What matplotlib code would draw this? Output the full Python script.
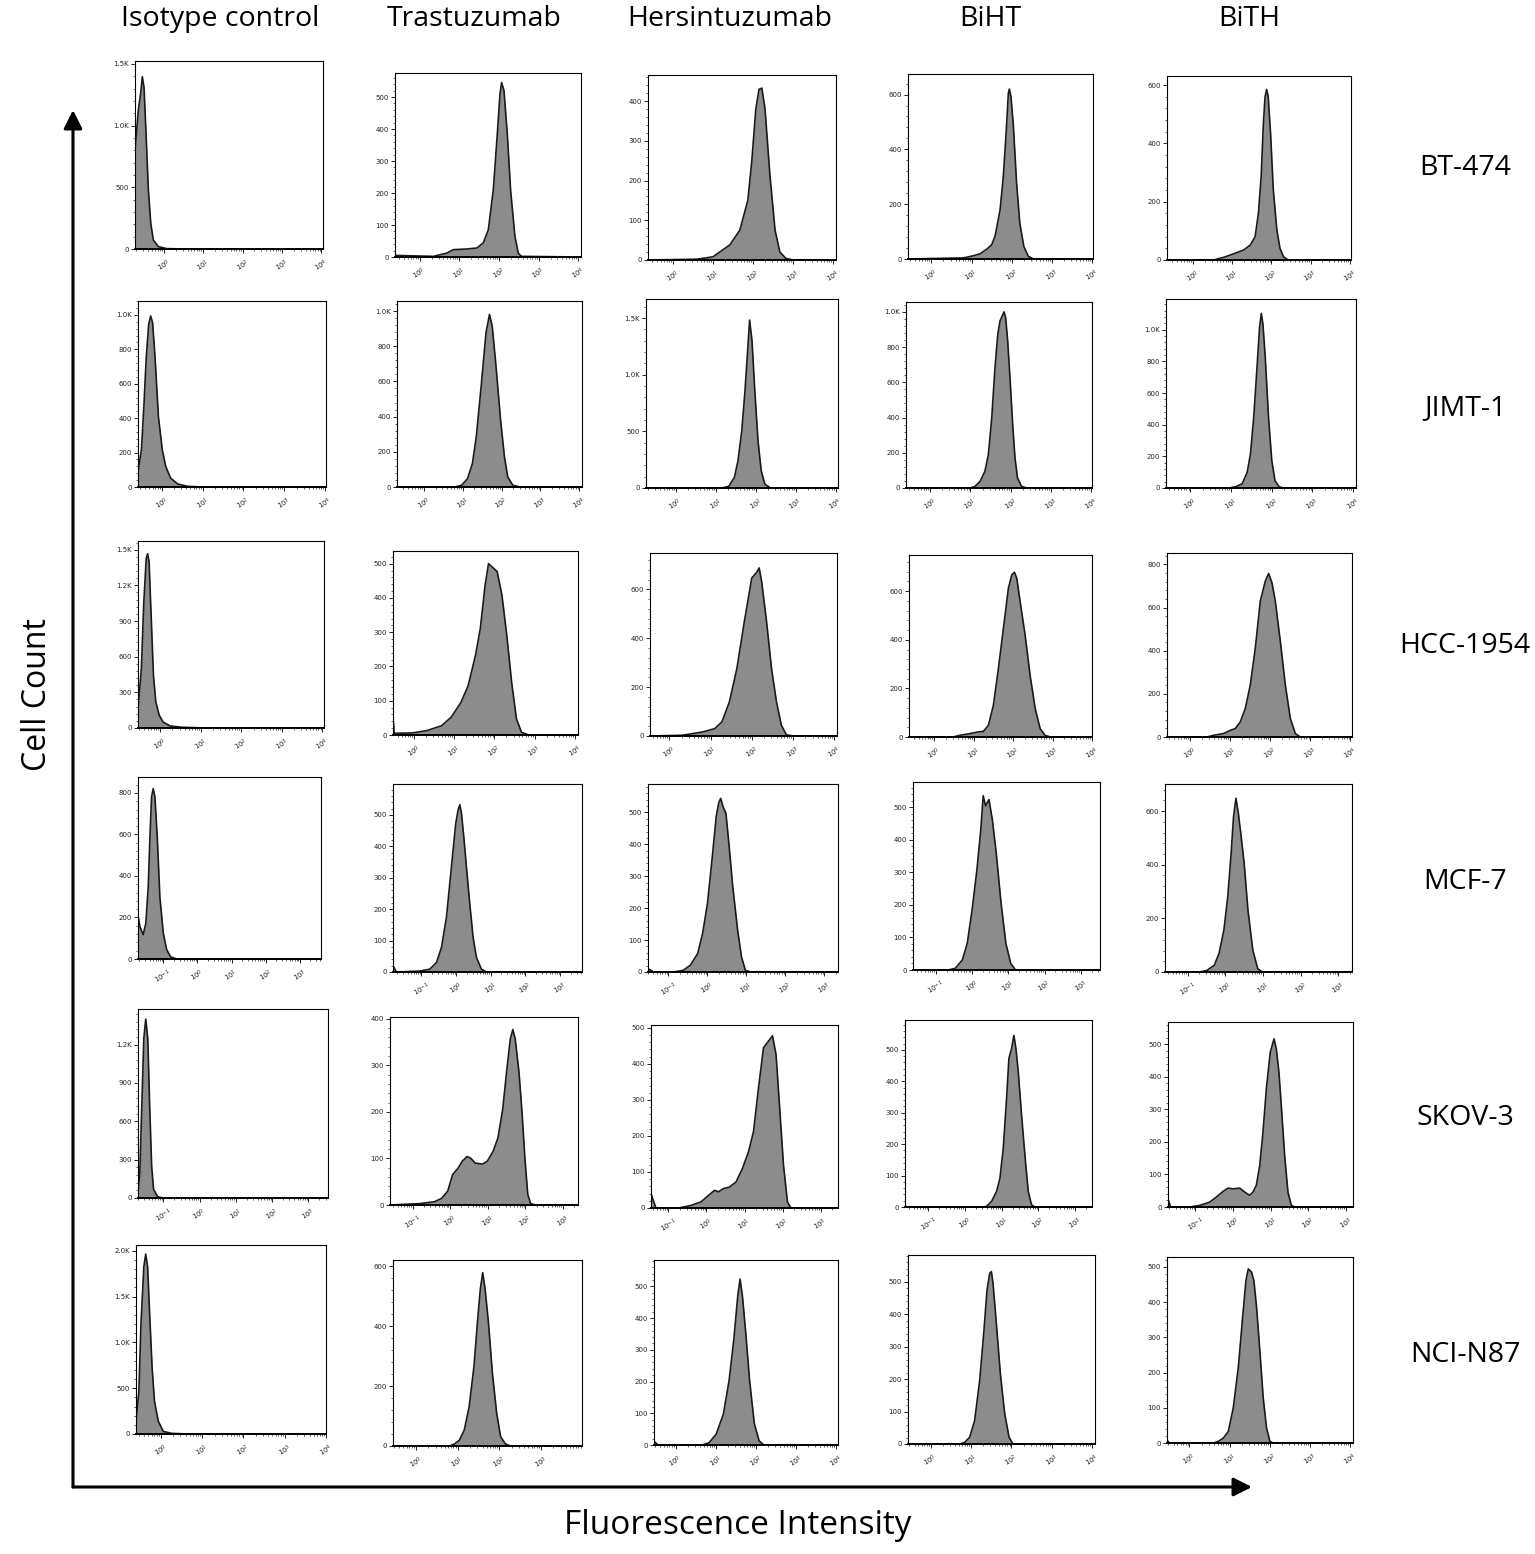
import numpy as np
import matplotlib
matplotlib.use('Agg')
import matplotlib.pyplot as plt
from matplotlib.patches import FancyArrowPatch
from matplotlib.ticker import FixedLocator, LogLocator, AutoMinorLocator, NullFormatter, FuncFormatter

W, H = 1535, 1554

antibodies = ['Isotype control', 'Trastuzumab', 'Hersintuzumab', 'BiHT', 'BiTH']
cell_lines = ['BT-474', 'JIMT-1', 'HCC-1954', 'MCF-7', 'SKOV-3', 'NCI-N87']

# histogram outlines: (log10 fluorescence, cell count)
bt474_iso = ([-0.73, -0.645, -0.586, -0.544, -0.501, -0.45, -0.39, -0.33, -0.264, -0.137, 0.075, 0.6, 4.04],
             [803, 1127, 1262, 1397, 1310, 935, 476, 208, 73, 19, 3, 0, 0])
bt474_tras = ([-0.62, 0.346, 0.683, 0.85, 1.187, 1.44, 1.607, 1.733, 1.859, 1.96, 2.027, 2.069, 2.128, 2.212, 2.296, 2.405, 2.489, 2.57, 4.07],
              [5, 2, 12, 23, 25, 28, 44, 85, 210, 385, 510, 545, 520, 384, 207, 64, 12, 2, 0])
bt474_hers = ([-0.62, 0.6, 1.0, 1.42, 1.67, 1.87, 1.97, 2.07, 2.15, 2.22, 2.3, 2.42, 2.55, 2.67, 2.82, 3.0, 4.07],
              [0, 2, 8, 38, 75, 150, 250, 380, 430, 433, 380, 215, 75, 20, 4, 0, 0])
bt474_biht = ([-0.58, 0.8, 1.05, 1.21, 1.38, 1.5, 1.585, 1.71, 1.79, 1.86, 1.915, 1.94, 1.98, 2.04, 2.12, 2.2, 2.3, 2.41, 2.54, 4.02],
              [0, 4, 12, 19, 36, 52, 83, 180, 301, 460, 605, 620, 593, 486, 277, 131, 46, 10, 0, 0])
bt474_bith = ([-0.66, 0.526, 0.78, 1.035, 1.29, 1.46, 1.586, 1.67, 1.74, 1.797, 1.84, 1.88, 1.92, 1.98, 2.05, 2.14, 2.22, 2.31, 2.43, 4.03],
              [0, 0, 9, 21, 34, 51, 80, 160, 286, 469, 560, 585, 560, 434, 240, 103, 40, 11, 0, 0])

jimt1_iso = ([-0.58, -0.497, -0.437, -0.378, -0.318, -0.27, -0.223, -0.163, -0.08, 0.015, 0.099, 0.218, 0.396, 0.634, 0.99, 4.02],
             [90, 215, 465, 754, 946, 994, 955, 754, 408, 215, 119, 52, 17, 4, 0, 0])
jimt1_tras = ([-0.69, 0.79, 0.975, 1.125, 1.25, 1.35, 1.475, 1.6, 1.69, 1.76, 1.85, 1.975, 2.075, 2.16, 2.29, 2.475, 4.07],
              [0, 0, 10, 48, 133, 286, 571, 876, 981, 914, 705, 381, 171, 57, 10, 0, 0])
jimt1_hers = ([-0.74, 1.16, 1.33, 1.47, 1.56, 1.655, 1.735, 1.79, 1.85, 1.91, 1.98, 2.06, 2.14, 2.23, 2.37, 4.06],
              [0, 0, 15, 94, 241, 506, 859, 1153, 1482, 1300, 859, 418, 153, 35, 0, 0])
jimt1_biht = ([-0.6, 0.99, 1.115, 1.24, 1.36, 1.446, 1.53, 1.61, 1.68, 1.735, 1.79, 1.835, 1.876, 1.926, 1.983, 2.05, 2.107, 2.17, 2.27, 2.4, 4.02],
              [0, 0, 9, 38, 95, 190, 398, 682, 872, 948, 977, 1000, 966, 834, 626, 360, 171, 57, 9, 0, 0])
jimt1_bith = ([-0.6, 0.95, 1.113, 1.274, 1.395, 1.476, 1.556, 1.637, 1.70, 1.742, 1.782, 1.84, 1.92, 2.0, 2.08, 2.18, 2.28, 4.07],
              [0, 0, 8, 27, 99, 215, 446, 762, 1015, 1103, 1036, 825, 446, 173, 46, 8, 0, 0])

hcc1954_iso = ([-0.55, -0.467, -0.407, -0.348, -0.312, -0.276, -0.229, -0.169, -0.11, -0.026, 0.07, 0.248, 0.545, 1.14, 4.04],
               [160, 499, 1055, 1424, 1466, 1396, 976, 443, 219, 107, 50, 17, 6, 0, 0])
hcc1954_tras = ([-0.52, -0.49, -0.036, 0.325, 0.687, 0.928, 1.169, 1.349, 1.53, 1.65, 1.77, 1.855, 1.95, 2.07, 2.19, 2.31, 2.43, 2.55, 2.675, 2.855, 4.08],
                [55, 5, 6, 13, 27, 52, 95, 144, 232, 310, 437, 500, 490, 477, 407, 290, 154, 47, 8, 0, 0])
hcc1954_hers = ([-0.47, 0.31, 0.795, 1.1, 1.277, 1.458, 1.64, 1.82, 2.0, 2.12, 2.18, 2.24, 2.36, 2.48, 2.6, 2.72, 2.84, 3.02, 4.07],
                [0, 3, 16, 30, 58, 140, 277, 468, 646, 670, 688, 633, 468, 277, 140, 44, 5, 0, 0])
hcc1954_biht = ([-0.64, 0.48, 0.65, 0.907, 1.12, 1.245, 1.373, 1.5, 1.627, 1.754, 1.88, 1.966, 2.034, 2.093, 2.178, 2.305, 2.43, 2.56, 2.686, 2.81, 2.94, 4.0],
                [0, 0, 7, 14, 21, 23, 48, 131, 282, 447, 612, 667, 678, 653, 557, 419, 254, 117, 34, 7, 0, 0])
hcc1954_bith = ([-0.58, 0.417, 0.583, 0.833, 1.0, 1.125, 1.25, 1.375, 1.5, 1.625, 1.75, 1.875, 1.958, 2.04, 2.125, 2.25, 2.375, 2.5, 2.625, 2.75, 4.04],
                [0, 0, 8, 16, 31, 39, 70, 132, 241, 412, 630, 723, 758, 716, 630, 444, 241, 86, 16, 0, 0])

mcf7_iso = ([-1.735, -1.686, -1.588, -1.51, -1.44, -1.39, -1.343, -1.294, -1.245, -1.176, -1.1, -1.0, -0.9, -0.784, -0.61, 3.62],
            [205, 157, 117, 173, 349, 589, 781, 821, 781, 589, 301, 125, 45, 10, 0, 0])
mcf7_tras = ([-1.82, -1.72, -1.05, -0.76, -0.567, -0.423, -0.279, -0.183, -0.087, -0.01, 0.058, 0.106, 0.154, 0.221, 0.298, 0.394, 0.49, 0.587, 0.73, 0.875, 3.63],
             [20, 0, 3, 9, 30, 78, 174, 281, 388, 473, 516, 532, 505, 430, 334, 217, 110, 46, 9, 0, 0])
mcf7_hers = ([-1.525, -1.375, -0.875, -0.625, -0.44, -0.25, -0.125, 0.0, 0.125, 0.225, 0.29, 0.34, 0.4, 0.475, 0.55, 0.65, 0.775, 0.875, 0.975, 1.125, 3.35],
             [10, 0, 0, 5, 21, 58, 120, 214, 361, 487, 530, 544, 518, 497, 403, 267, 131, 47, 5, 0, 0])
mcf7_biht = ([-1.63, -0.667, -0.467, -0.267, -0.133, 0.0, 0.133, 0.24, 0.307, 0.373, 0.467, 0.56, 0.667, 0.8, 0.933, 1.067, 1.2, 3.53],
             [0, 0, 5, 31, 82, 184, 307, 430, 535, 504, 523, 461, 359, 205, 82, 20, 0, 0])
mcf7_bith = ([-1.6, -0.68, -0.487, -0.295, -0.167, -0.038, 0.064, 0.154, 0.218, 0.282, 0.346, 0.41, 0.5, 0.6, 0.73, 0.86, 0.987, 3.36],
             [0, 0, 6, 25, 69, 156, 280, 442, 579, 648, 592, 517, 405, 231, 81, 12, 0, 0])

skov3_iso = ([-1.70, -1.65, -1.595, -1.54, -1.486, -1.43, -1.378, -1.324, -1.27, -1.16, -1.0, 3.54],
             [40, 199, 723, 1247, 1399, 1247, 723, 252, 68, 10, 0, 0])
skov3_tras = ([-1.6, -1.32, -0.81, -0.42, -0.23, -0.064, 0.064, 0.218, 0.32, 0.45, 0.54, 0.667, 0.86, 0.987, 1.14, 1.27, 1.4, 1.5, 1.6, 1.667, 1.73, 1.83, 1.91, 1.987, 2.064, 2.14, 2.27, 3.4],
              [0, 1, 3, 7, 14, 30, 65, 80, 94, 104, 101, 90, 88, 94, 115, 144, 207, 286, 357, 377, 357, 286, 201, 101, 23, 3, 0, 0])
skov3_hers = ([-1.46, -1.33, -0.74, -0.41, -0.145, 0.053, 0.21, 0.316, 0.447, 0.6, 0.776, 0.947, 1.105, 1.237, 1.368, 1.5, 1.63, 1.737, 1.83, 1.92, 2.026, 2.13, 2.22, 3.46],
              [40, 0, 0, 7, 17, 35, 49, 45, 54, 58, 72, 110, 156, 212, 333, 445, 463, 478, 426, 286, 119, 17, 0, 0])
skov3_biht = ([-1.64, 0.5, 0.59, 0.727, 0.864, 0.955, 1.045, 1.136, 1.2, 1.273, 1.336, 1.39, 1.455, 1.545, 1.636, 1.727, 1.818, 1.91, 3.47],
              [0, 0, 2, 18, 50, 92, 187, 346, 473, 505, 546, 505, 431, 293, 166, 50, 7, 0, 0])
skov3_bith = ([-1.73, -1.66, -1.15, -0.885, -0.62, -0.44, -0.265, -0.133, 0.0, 0.177, 0.31, 0.44, 0.53, 0.62, 0.71, 0.796, 0.885, 0.99, 1.09, 1.15, 1.22, 1.283, 1.372, 1.46, 1.55, 1.64, 3.19],
              [25, 0, 0, 5, 15, 31, 48, 58, 56, 58, 46, 36, 46, 67, 128, 230, 363, 476, 517, 487, 415, 312, 159, 46, 5, 0, 0])

n87_iso = ([-0.6, -0.53, -0.48, -0.41, -0.365, -0.318, -0.27, -0.21, -0.153, -0.06, 0.06, 0.26, 0.67, 4.0],
           [140, 469, 1201, 1824, 1963, 1824, 1311, 725, 359, 139, 29, 7, 0, 0])
n87_tras = ([-0.55, 0.81, 0.93, 1.047, 1.163, 1.28, 1.395, 1.477, 1.547, 1.605, 1.663, 1.744, 1.837, 1.94, 2.035, 2.15, 2.27, 3.99],
            [0, 0, 7, 20, 54, 132, 266, 411, 523, 579, 523, 411, 244, 110, 31, 7, 0, 0])
n87_hers = ([-0.54, -0.44, 0.655, 0.833, 1.01, 1.19, 1.333, 1.45, 1.548, 1.607, 1.667, 1.75, 1.845, 1.964, 2.083, 2.2, 4.05],
            [12, 0, 0, 7, 34, 97, 203, 331, 468, 523, 468, 352, 203, 66, 13, 0, 0])
n87_biht = ([-0.56, 0.72, 0.843, 0.967, 1.09, 1.215, 1.314, 1.397, 1.463, 1.504, 1.545, 1.628, 1.727, 1.835, 1.942, 2.04, 4.07],
            [0, 0, 5, 21, 72, 196, 340, 474, 526, 531, 495, 371, 216, 93, 21, 0, 0])
n87_bith = ([-0.56, -0.5, 0.595, 0.72, 0.843, 0.967, 1.09, 1.215, 1.322, 1.405, 1.463, 1.545, 1.603, 1.67, 1.752, 1.835, 1.917, 2.0, 2.08, 4.07],
            [8, 0, 0, 5, 14, 33, 100, 214, 356, 461, 494, 485, 461, 385, 261, 128, 43, 5, 0, 0])

panels = [
    [bt474_iso, bt474_tras, bt474_hers, bt474_biht, bt474_bith],
    [jimt1_iso, jimt1_tras, jimt1_hers, jimt1_biht, jimt1_bith],
    [hcc1954_iso, hcc1954_tras, hcc1954_hers, hcc1954_biht, hcc1954_bith],
    [mcf7_iso, mcf7_tras, mcf7_hers, mcf7_biht, mcf7_bith],
    [skov3_iso, skov3_tras, skov3_hers, skov3_biht, skov3_bith],
    [n87_iso, n87_tras, n87_hers, n87_biht, n87_bith],
]

# axis ranges of each panel (log10 decades) and count axis top / tick step
x_range = [
    [(-0.73, 4.04), (-0.62, 4.07), (-0.62, 4.07), (-0.58, 4.02), (-0.66, 4.03)],
    [(-0.58, 4.02), (-0.69, 4.07), (-0.74, 4.06), (-0.6, 4.02), (-0.6, 4.07)],
    [(-0.55, 4.04), (-0.52, 4.08), (-0.47, 4.07), (-0.64, 4.0), (-0.58, 4.04)],
    [(-1.74, 3.62), (-1.82, 3.63), (-1.525, 3.35), (-1.63, 3.53), (-1.6, 3.36)],
    [(-1.7, 3.54), (-1.6, 3.4), (-1.46, 3.46), (-1.64, 3.47), (-1.73, 3.19)],
    [(-0.6, 4.0), (-0.55, 3.99), (-0.54, 4.05), (-0.56, 4.07), (-0.56, 4.07)],
]
y_top = [
    [1524, 575, 466, 675, 631],
    [1081, 1057, 1668, 1056, 1194],
    [1573, 537, 749, 749, 853],
    [877, 598, 589, 577, 701],
    [1478, 404, 508, 595, 569],
    [2062, 621, 583, 582, 528],
]
y_step = [
    [500, 100, 100, 200, 200],
    [200, 200, 500, 200, 200],
    [300, 100, 200, 200, 200],
    [200, 100, 100, 100, 200],
    [300, 100, 100, 100, 100],
    [500, 200, 100, 100, 100],
]
x_decades = [[0, 1, 2, 3, 4]] * 3 + [[-1, 0, 1, 2, 3]] * 2 + [[0, 1, 2, 3, 4]]

# panel frames in pixels: left, top, right, bottom
boxes = [
    [(135, 61, 323, 249), (395, 73, 581, 257), (648, 75, 836, 260), (908, 74, 1093, 259), (1167, 76, 1351, 260)],
    [(138, 301, 326, 487), (397, 301, 582, 487), (646, 299, 838, 488), (906, 302, 1092, 488), (1166, 299, 1356, 488)],
    [(138, 541, 324, 728), (393, 551, 578, 735), (650, 553, 837, 736), (909, 555, 1092, 737), (1167, 553, 1352, 737)],
    [(138, 777, 321, 959), (393, 784, 582, 972), (648, 784, 838, 972), (913, 782, 1100, 970), (1165, 784, 1352, 972)],
    [(138, 1009, 328, 1198), (390, 1017, 578, 1205), (651, 1025, 838, 1208), (905, 1020, 1092, 1207), (1168, 1022, 1353, 1207)],
    [(136, 1245, 326, 1434), (393, 1260, 582, 1446), (654, 1260, 838, 1445), (908, 1255, 1095, 1444), (1167, 1257, 1353, 1443)],
]
col_x = [220, 474, 730, 990, 1249]
row_y = [168, 408, 646, 882, 1118, 1355]

FONT = ['Open Sans', 'DejaVu Sans']
fig = plt.figure(figsize=(W / 100, H / 100), dpi=100)


def count_label(v, pos):
    if v >= 1000:
        return f'{v / 1000:.1f}K'
    return f'{int(v)}'


def decade_label(v, pos):
    return f'$10^{{{int(round(np.log10(v)))}}}$'


for r in range(6):
    for c in range(5):
        l, t, rt, b = boxes[r][c]
        ax = fig.add_axes([l / W, 1 - b / H, (rt - l) / W, (b - t) / H])
        d, cnt = panels[r][c]
        x = 10.0 ** np.array(d)
        y = np.array(cnt, dtype=float)
        ax.fill_between(x, y, 0, color='#8c8c8c', lw=0)
        ax.plot(x, y, color='#1a1a1a', lw=1.2, solid_joinstyle='round')
        ax.set_xscale('log')
        lo, hi = x_range[r][c]
        ax.set_xlim(10 ** lo, 10 ** hi)
        ax.set_ylim(0, y_top[r][c])
        ax.xaxis.set_major_locator(FixedLocator([10.0 ** k for k in x_decades[r]]))
        ax.xaxis.set_minor_locator(LogLocator(base=10, subs=np.arange(2, 10)))
        ax.xaxis.set_major_formatter(FuncFormatter(decade_label))
        ax.xaxis.set_minor_formatter(NullFormatter())
        ax.yaxis.set_major_locator(FixedLocator(np.arange(0, y_top[r][c] + 1, y_step[r][c])))
        ax.yaxis.set_minor_locator(AutoMinorLocator(5))
        ax.yaxis.set_major_formatter(FuncFormatter(count_label))
        ax.tick_params(which='major', length=3, width=0.7, labelsize=5, pad=1.5, colors='#222222')
        ax.tick_params(which='minor', length=1.6, width=0.5, colors='#222222')
        ax.tick_params(axis='x', which='major', labelrotation=30, pad=3)
        for sp in ax.spines.values():
            sp.set_linewidth(0.8)
        ax.spines['bottom'].set_linewidth(1.4)

for name, cx in zip(antibodies, col_x):
    fig.text(cx / W, 1 - 19 / H, name, ha='center', va='center', fontsize=20.5, family=FONT)
for name, cy in zip(cell_lines, row_y):
    fig.text(1465 / W, 1 - cy / H, name, ha='center', va='center', fontsize=20.5, family=FONT)

fig.text(38 / W, 1 - 695 / H, 'Cell Count', rotation=90, ha='center', va='center', fontsize=23, family=FONT)
fig.text(738 / W, 1 - 1526 / H, 'Fluorescence Intensity', ha='center', va='center', fontsize=24, family=FONT)

arrow = dict(arrowstyle='-|>', lw=2.2, color='black', mutation_scale=28, shrinkA=0, shrinkB=0)
fig.add_artist(FancyArrowPatch((73 / W, 1 - 1487 / H), (73 / W, 1 - 110 / H),
                               transform=fig.transFigure, **arrow))
fig.add_artist(FancyArrowPatch((73 / W, 1 - 1487 / H), (1252 / W, 1 - 1487 / H),
                               transform=fig.transFigure, **arrow))

fig.savefig('out.png', dpi=100, facecolor='white')
